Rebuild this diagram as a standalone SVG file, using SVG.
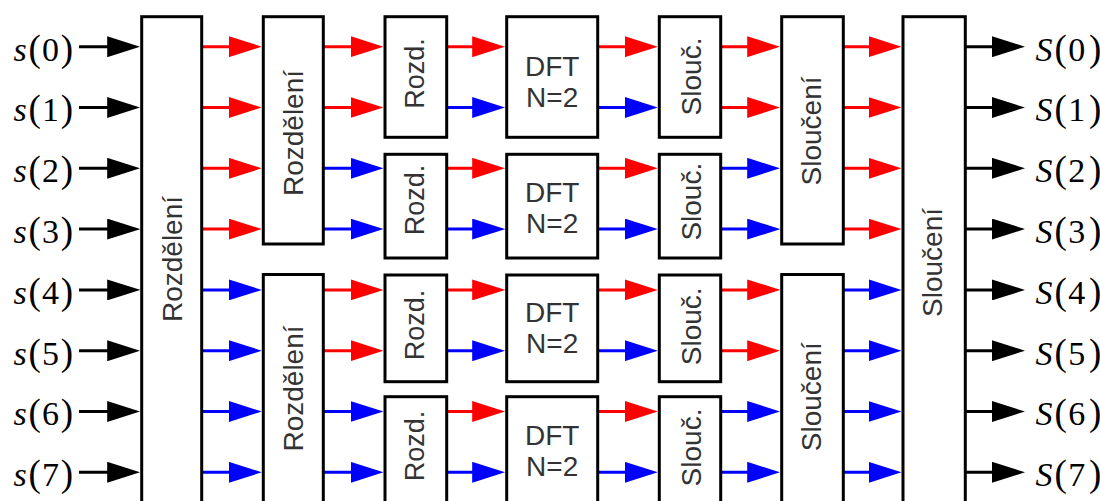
<svg xmlns="http://www.w3.org/2000/svg" width="1100" height="501" viewBox="0 0 1100 501">
<style>
.box{fill:#fff;stroke:#000;stroke-width:3}
.lbl{font-family:"Liberation Sans",Arial,sans-serif;font-size:28px;fill:#333;text-anchor:middle}
.sm{font-size:27px}
.c line{stroke-width:3;fill:none}
.k{stroke:#000}.r{stroke:#f00}.b{stroke:#00f}
.m{font-family:"Liberation Serif","Times New Roman",serif;font-size:34px;fill:#000}
.i{font-style:italic}
.p{font-size:37px}
</style>
<defs>
<marker id="ak" markerUnits="userSpaceOnUse" markerWidth="33" markerHeight="21" refX="13" refY="10.5" orient="auto"><path d="M0,0 L33,10.5 L0,21 Z" fill="#000"/></marker>
<marker id="ar" markerUnits="userSpaceOnUse" markerWidth="33" markerHeight="21" refX="13" refY="10.5" orient="auto"><path d="M0,0 L33,10.5 L0,21 Z" fill="#f00"/></marker>
<marker id="ab" markerUnits="userSpaceOnUse" markerWidth="33" markerHeight="21" refX="13" refY="10.5" orient="auto"><path d="M0,0 L33,10.5 L0,21 Z" fill="#00f"/></marker>
</defs>
<rect width="1100" height="501" fill="#fff"/>

<g id="connectors" class="c">
<!-- column A: inputs -->
<line class="k" x1="79" y1="46.7" x2="120.2" y2="46.7" marker-end="url(#ak)"/>
<line class="k" x1="79" y1="107.5" x2="120.2" y2="107.5" marker-end="url(#ak)"/>
<line class="k" x1="79" y1="168.3" x2="120.2" y2="168.3" marker-end="url(#ak)"/>
<line class="k" x1="79" y1="229.1" x2="120.2" y2="229.1" marker-end="url(#ak)"/>
<line class="k" x1="79" y1="289.9" x2="120.2" y2="289.9" marker-end="url(#ak)"/>
<line class="k" x1="79" y1="350.7" x2="120.2" y2="350.7" marker-end="url(#ak)"/>
<line class="k" x1="79" y1="411.5" x2="120.2" y2="411.5" marker-end="url(#ak)"/>
<line class="k" x1="79" y1="472.3" x2="120.2" y2="472.3" marker-end="url(#ak)"/>
<!-- column B -->
<line class="r" x1="201.7" y1="46.7" x2="241.8" y2="46.7" marker-end="url(#ar)"/>
<line class="r" x1="201.7" y1="107.5" x2="241.8" y2="107.5" marker-end="url(#ar)"/>
<line class="r" x1="201.7" y1="168.3" x2="241.8" y2="168.3" marker-end="url(#ar)"/>
<line class="r" x1="201.7" y1="229.1" x2="241.8" y2="229.1" marker-end="url(#ar)"/>
<line class="b" x1="201.7" y1="289.9" x2="241.8" y2="289.9" marker-end="url(#ab)"/>
<line class="b" x1="201.7" y1="350.7" x2="241.8" y2="350.7" marker-end="url(#ab)"/>
<line class="b" x1="201.7" y1="411.5" x2="241.8" y2="411.5" marker-end="url(#ab)"/>
<line class="b" x1="201.7" y1="472.3" x2="241.8" y2="472.3" marker-end="url(#ab)"/>
<!-- column C -->
<line class="r" x1="323.3" y1="46.7" x2="363.5" y2="46.7" marker-end="url(#ar)"/>
<line class="r" x1="323.3" y1="107.5" x2="363.5" y2="107.5" marker-end="url(#ar)"/>
<line class="b" x1="323.3" y1="168.3" x2="363.5" y2="168.3" marker-end="url(#ab)"/>
<line class="b" x1="323.3" y1="229.1" x2="363.5" y2="229.1" marker-end="url(#ab)"/>
<line class="r" x1="323.3" y1="289.9" x2="363.5" y2="289.9" marker-end="url(#ar)"/>
<line class="r" x1="323.3" y1="350.7" x2="363.5" y2="350.7" marker-end="url(#ar)"/>
<line class="b" x1="323.3" y1="411.5" x2="363.5" y2="411.5" marker-end="url(#ab)"/>
<line class="b" x1="323.3" y1="472.3" x2="363.5" y2="472.3" marker-end="url(#ab)"/>
<!-- column D -->
<line class="r" x1="446.7" y1="46.7" x2="485.2" y2="46.7" marker-end="url(#ar)"/>
<line class="b" x1="446.7" y1="107.5" x2="485.2" y2="107.5" marker-end="url(#ab)"/>
<line class="r" x1="446.7" y1="168.3" x2="485.2" y2="168.3" marker-end="url(#ar)"/>
<line class="b" x1="446.7" y1="229.1" x2="485.2" y2="229.1" marker-end="url(#ab)"/>
<line class="r" x1="446.7" y1="289.9" x2="485.2" y2="289.9" marker-end="url(#ar)"/>
<line class="b" x1="446.7" y1="350.7" x2="485.2" y2="350.7" marker-end="url(#ab)"/>
<line class="r" x1="446.7" y1="411.5" x2="485.2" y2="411.5" marker-end="url(#ar)"/>
<line class="b" x1="446.7" y1="472.3" x2="485.2" y2="472.3" marker-end="url(#ab)"/>
<!-- column E -->
<line class="r" x1="597.7" y1="46.7" x2="637.8" y2="46.7" marker-end="url(#ar)"/>
<line class="b" x1="597.7" y1="107.5" x2="637.8" y2="107.5" marker-end="url(#ab)"/>
<line class="r" x1="597.7" y1="168.3" x2="637.8" y2="168.3" marker-end="url(#ar)"/>
<line class="b" x1="597.7" y1="229.1" x2="637.8" y2="229.1" marker-end="url(#ab)"/>
<line class="r" x1="597.7" y1="289.9" x2="637.8" y2="289.9" marker-end="url(#ar)"/>
<line class="b" x1="597.7" y1="350.7" x2="637.8" y2="350.7" marker-end="url(#ab)"/>
<line class="r" x1="597.7" y1="411.5" x2="637.8" y2="411.5" marker-end="url(#ar)"/>
<line class="b" x1="597.7" y1="472.3" x2="637.8" y2="472.3" marker-end="url(#ab)"/>
<!-- column F -->
<line class="r" x1="720.7" y1="46.7" x2="760.2" y2="46.7" marker-end="url(#ar)"/>
<line class="r" x1="720.7" y1="107.5" x2="760.2" y2="107.5" marker-end="url(#ar)"/>
<line class="b" x1="720.7" y1="168.3" x2="760.2" y2="168.3" marker-end="url(#ab)"/>
<line class="b" x1="720.7" y1="229.1" x2="760.2" y2="229.1" marker-end="url(#ab)"/>
<line class="r" x1="720.7" y1="289.9" x2="760.2" y2="289.9" marker-end="url(#ar)"/>
<line class="r" x1="720.7" y1="350.7" x2="760.2" y2="350.7" marker-end="url(#ar)"/>
<line class="b" x1="720.7" y1="411.5" x2="760.2" y2="411.5" marker-end="url(#ab)"/>
<line class="b" x1="720.7" y1="472.3" x2="760.2" y2="472.3" marker-end="url(#ab)"/>
<!-- column G -->
<line class="r" x1="843.3" y1="46.7" x2="881.5" y2="46.7" marker-end="url(#ar)"/>
<line class="r" x1="843.3" y1="107.5" x2="881.5" y2="107.5" marker-end="url(#ar)"/>
<line class="r" x1="843.3" y1="168.3" x2="881.5" y2="168.3" marker-end="url(#ar)"/>
<line class="r" x1="843.3" y1="229.1" x2="881.5" y2="229.1" marker-end="url(#ar)"/>
<line class="b" x1="843.3" y1="289.9" x2="881.5" y2="289.9" marker-end="url(#ab)"/>
<line class="b" x1="843.3" y1="350.7" x2="881.5" y2="350.7" marker-end="url(#ab)"/>
<line class="b" x1="843.3" y1="411.5" x2="881.5" y2="411.5" marker-end="url(#ab)"/>
<line class="b" x1="843.3" y1="472.3" x2="881.5" y2="472.3" marker-end="url(#ab)"/>
<!-- column H: outputs -->
<line class="k" x1="965.3" y1="46.7" x2="1005" y2="46.7" marker-end="url(#ak)"/>
<line class="k" x1="965.3" y1="107.5" x2="1005" y2="107.5" marker-end="url(#ak)"/>
<line class="k" x1="965.3" y1="168.3" x2="1005" y2="168.3" marker-end="url(#ak)"/>
<line class="k" x1="965.3" y1="229.1" x2="1005" y2="229.1" marker-end="url(#ak)"/>
<line class="k" x1="965.3" y1="289.9" x2="1005" y2="289.9" marker-end="url(#ak)"/>
<line class="k" x1="965.3" y1="350.7" x2="1005" y2="350.7" marker-end="url(#ak)"/>
<line class="k" x1="965.3" y1="411.5" x2="1005" y2="411.5" marker-end="url(#ak)"/>
<line class="k" x1="965.3" y1="472.3" x2="1005" y2="472.3" marker-end="url(#ak)"/>
</g>

<!-- input labels -->
<g id="in0"><text class="m" y="60.5"><tspan class="i" x="13.4">s</tspan><tspan class="p" x="28.5">(</tspan><tspan x="42">0</tspan><tspan class="p" x="60.7">)</tspan></text></g>
<g id="in1"><text class="m" y="121.3"><tspan class="i" x="13.4">s</tspan><tspan class="p" x="28.5">(</tspan><tspan x="42">1</tspan><tspan class="p" x="60.7">)</tspan></text></g>
<g id="in2"><text class="m" y="182.1"><tspan class="i" x="13.4">s</tspan><tspan class="p" x="28.5">(</tspan><tspan x="42">2</tspan><tspan class="p" x="60.7">)</tspan></text></g>
<g id="in3"><text class="m" y="242.9"><tspan class="i" x="13.4">s</tspan><tspan class="p" x="28.5">(</tspan><tspan x="42">3</tspan><tspan class="p" x="60.7">)</tspan></text></g>
<g id="in4"><text class="m" y="303.7"><tspan class="i" x="13.4">s</tspan><tspan class="p" x="28.5">(</tspan><tspan x="42">4</tspan><tspan class="p" x="60.7">)</tspan></text></g>
<g id="in5"><text class="m" y="364.5"><tspan class="i" x="13.4">s</tspan><tspan class="p" x="28.5">(</tspan><tspan x="42">5</tspan><tspan class="p" x="60.7">)</tspan></text></g>
<g id="in6"><text class="m" y="425.3"><tspan class="i" x="13.4">s</tspan><tspan class="p" x="28.5">(</tspan><tspan x="42">6</tspan><tspan class="p" x="60.7">)</tspan></text></g>
<g id="in7"><text class="m" y="486.1"><tspan class="i" x="13.4">s</tspan><tspan class="p" x="28.5">(</tspan><tspan x="42">7</tspan><tspan class="p" x="60.7">)</tspan></text></g>

<!-- output labels -->
<g id="out0"><text class="m" y="60.5"><tspan class="i" x="1035.4">S</tspan><tspan class="p" x="1054.5">(</tspan><tspan x="1068.2">0</tspan><tspan class="p" x="1089.1">)</tspan></text></g>
<g id="out1"><text class="m" y="121.3"><tspan class="i" x="1035.4">S</tspan><tspan class="p" x="1054.5">(</tspan><tspan x="1068.2">1</tspan><tspan class="p" x="1089.1">)</tspan></text></g>
<g id="out2"><text class="m" y="182.1"><tspan class="i" x="1035.4">S</tspan><tspan class="p" x="1054.5">(</tspan><tspan x="1068.2">2</tspan><tspan class="p" x="1089.1">)</tspan></text></g>
<g id="out3"><text class="m" y="242.9"><tspan class="i" x="1035.4">S</tspan><tspan class="p" x="1054.5">(</tspan><tspan x="1068.2">3</tspan><tspan class="p" x="1089.1">)</tspan></text></g>
<g id="out4"><text class="m" y="303.7"><tspan class="i" x="1035.4">S</tspan><tspan class="p" x="1054.5">(</tspan><tspan x="1068.2">4</tspan><tspan class="p" x="1089.1">)</tspan></text></g>
<g id="out5"><text class="m" y="364.5"><tspan class="i" x="1035.4">S</tspan><tspan class="p" x="1054.5">(</tspan><tspan x="1068.2">5</tspan><tspan class="p" x="1089.1">)</tspan></text></g>
<g id="out6"><text class="m" y="425.3"><tspan class="i" x="1035.4">S</tspan><tspan class="p" x="1054.5">(</tspan><tspan x="1068.2">6</tspan><tspan class="p" x="1089.1">)</tspan></text></g>
<g id="out7"><text class="m" y="486.1"><tspan class="i" x="1035.4">S</tspan><tspan class="p" x="1054.5">(</tspan><tspan x="1068.2">7</tspan><tspan class="p" x="1089.1">)</tspan></text></g>

<!-- stage 1 split -->
<g id="split8"><rect class="box" x="141.7" y="16.7" width="60" height="490"/><text class="lbl" transform="translate(171.5,259) rotate(-90)" y="10">Rozdělení</text></g>
<!-- stage 2 split -->
<g id="split4a"><rect class="box" x="263.3" y="16.7" width="60" height="227.3"/><text class="lbl" transform="translate(293,133) rotate(-90)" y="10">Rozdělení</text></g>
<g id="split4b"><rect class="box" x="263.3" y="274.5" width="60" height="232"/><text class="lbl" transform="translate(293,388.5) rotate(-90)" y="10">Rozdělení</text></g>
<!-- stage 3 split -->
<g id="rozd0"><rect class="box" x="385" y="16.7" width="61.7" height="120.6"/><text class="lbl sm" transform="translate(414,73.5) rotate(-90)" y="10">Rozd.</text></g>
<g id="rozd1"><rect class="box" x="385" y="154.3" width="61.7" height="103.7"/><text class="lbl sm" transform="translate(414,200) rotate(-90)" y="10">Rozd.</text></g>
<g id="rozd2"><rect class="box" x="385" y="275" width="61.7" height="106.7"/><text class="lbl sm" transform="translate(414,325) rotate(-90)" y="10">Rozd.</text></g>
<g id="rozd3"><rect class="box" x="385" y="396.7" width="61.7" height="110"/><text class="lbl sm" transform="translate(414,446) rotate(-90)" y="10">Rozd.</text></g>
<!-- DFT -->
<g id="dft0"><rect class="box" x="506.7" y="16.7" width="91" height="120.6"/><text class="lbl" x="552.2" y="76">DFT</text><text class="lbl" x="552.2" y="107.3">N=2</text></g>
<g id="dft1"><rect class="box" x="506.7" y="154.3" width="91" height="103.7"/><text class="lbl" x="552.2" y="201.7">DFT</text><text class="lbl" x="552.2" y="233.3">N=2</text></g>
<g id="dft2"><rect class="box" x="506.7" y="275" width="91" height="106.7"/><text class="lbl" x="552.2" y="321.7">DFT</text><text class="lbl" x="552.2" y="352.7">N=2</text></g>
<g id="dft3"><rect class="box" x="506.7" y="396.7" width="91" height="110"/><text class="lbl" x="552.2" y="445">DFT</text><text class="lbl" x="552.2" y="476">N=2</text></g>
<!-- stage 1 merge -->
<g id="slouc0"><rect class="box" x="659.3" y="16.7" width="61.4" height="120.6"/><text class="lbl" transform="translate(690.7,76.5) rotate(-90)" y="10">Slouč.</text></g>
<g id="slouc1"><rect class="box" x="659.3" y="154.3" width="61.4" height="103.7"/><text class="lbl" transform="translate(690.7,201.7) rotate(-90)" y="10">Slouč.</text></g>
<g id="slouc2"><rect class="box" x="659.3" y="275" width="61.4" height="106.7"/><text class="lbl" transform="translate(690.7,326.3) rotate(-90)" y="10">Slouč.</text></g>
<g id="slouc3"><rect class="box" x="659.3" y="396.7" width="61.4" height="110"/><text class="lbl" transform="translate(690.7,447.5) rotate(-90)" y="10">Slouč.</text></g>
<!-- stage 2 merge -->
<g id="merge4a"><rect class="box" x="781.7" y="16.7" width="61.6" height="227.3"/><text class="lbl" transform="translate(811,131) rotate(-90)" y="10">Sloučení</text></g>
<g id="merge4b"><rect class="box" x="781.7" y="274.5" width="61.6" height="232"/><text class="lbl" transform="translate(811,396.7) rotate(-90)" y="10">Sloučení</text></g>
<!-- stage 3 merge -->
<g id="merge8"><rect class="box" x="903" y="16.7" width="62.3" height="490"/><text class="lbl" transform="translate(932,262.5) rotate(-90)" y="10">Sloučení</text></g>
</svg>
